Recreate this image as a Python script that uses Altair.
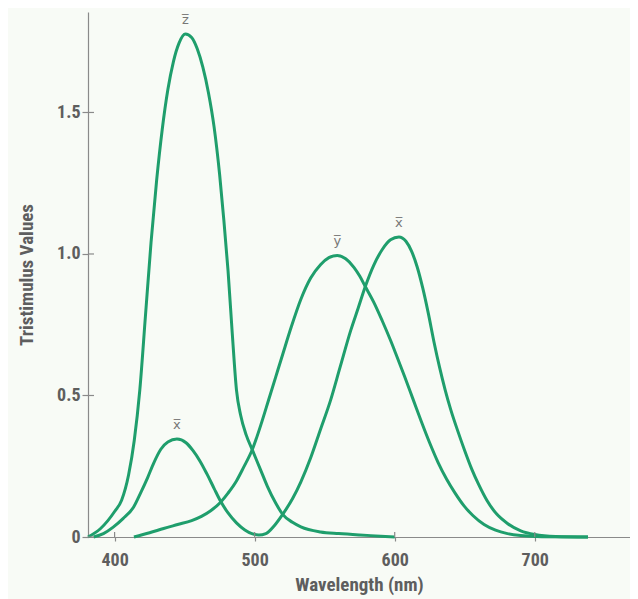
import altair as alt
import pandas as pd

# ---- data (wavelength nm, tristimulus value) ----
z_wl = [381, 390, 400, 405, 410, 414, 418, 422, 426, 430, 434, 438, 442, 446, 450.5, 455, 459, 463,
        467, 471, 475, 478, 481, 484, 487, 490, 494, 498.4, 504, 509, 515, 520, 527, 533, 547, 560,
        575, 590, 600]
z_val = [0.0, 0.03, 0.09, 0.13, 0.22, 0.34, 0.52, 0.78, 1.04, 1.26, 1.44, 1.58, 1.68, 1.745, 1.777,
         1.765, 1.725, 1.66, 1.57, 1.45, 1.28, 1.12, 0.94, 0.72, 0.52, 0.43, 0.36, 0.307, 0.24, 0.18,
         0.12, 0.08, 0.052, 0.036, 0.018, 0.012, 0.007, 0.003, 0.0]

x_wl = [385, 392, 399, 406, 413.6, 418.5, 423.6, 428, 433, 438, 444.5, 451, 456, 461, 466, 471, 475.7,
        481, 487, 493, 498, 503, 508, 514, 520, 527, 533, 540, 547, 554, 561, 568.6, 574, 579, 585,
        591, 597, 603, 608, 612, 616, 620, 624, 628, 632, 636, 640, 645, 650, 655, 660, 666, 673,
        680.5, 690, 700, 715, 738]
x_val = [0.0, 0.012, 0.035, 0.065, 0.106, 0.155, 0.21, 0.262, 0.31, 0.336, 0.346, 0.333, 0.305, 0.268,
         0.222, 0.172, 0.126, 0.085, 0.05, 0.025, 0.012, 0.007, 0.012, 0.04, 0.08, 0.135, 0.195, 0.28,
         0.38, 0.48, 0.60, 0.73, 0.81, 0.885, 0.96, 1.015, 1.05, 1.06, 1.045, 1.01, 0.955, 0.88, 0.79,
         0.69, 0.60, 0.52, 0.45, 0.375, 0.305, 0.24, 0.185, 0.128, 0.08, 0.048, 0.022, 0.009, 0.002,
         0.0]

y_wl = [413.8, 425, 435, 445, 455, 462, 468.6, 475.7, 481, 487, 492, 498.4, 505, 510, 515, 520, 526,
        533, 540, 547, 553, 559, 565, 571, 575, 579, 585, 591, 597, 601, 607, 613, 619, 625, 631, 637,
        643, 649.5, 656, 663.8, 672, 680.5, 690, 705, 738]
y_val = [0.0, 0.015, 0.03, 0.044, 0.058, 0.073, 0.093, 0.123, 0.155, 0.198, 0.245, 0.31, 0.405, 0.485,
         0.565, 0.645, 0.74, 0.84, 0.915, 0.962, 0.987, 0.995, 0.983, 0.952, 0.922, 0.885, 0.83, 0.765,
         0.695, 0.645, 0.568, 0.488, 0.408, 0.332, 0.263, 0.205, 0.156, 0.11, 0.075, 0.044, 0.024,
         0.012, 0.005, 0.001, 0.0]

curves = {"x": (x_wl, x_val), "y": (y_wl, y_val), "z": (z_wl, z_val)}
label_text = {"x": "x\u0305", "y": "y\u0305", "z": "z\u0305"}

x_ticks = [400, 500, 600, 700]
y_ticks = [0, 0.5, 1.0, 1.5]

rows, labs = [], []
for name, (wl, val) in curves.items():
    for a, b in zip(wl, val):
        rows.append({"wl": a, "v": b, "curve": name})
    # label every local maximum of the curve
    for i in range(1, len(val) - 1):
        if val[i] > val[i - 1] and val[i] >= val[i + 1]:
            labs.append({"wl": wl[i], "v": val[i], "t": label_text[name]})

df = pd.DataFrame(rows)
lab_df = pd.DataFrame(labs)
xt_df = pd.DataFrame({"t": x_ticks})
yt_df = pd.DataFrame({"t": y_ticks})

GREEN = "#1f9e6c"
TXT = "#5e5e5e"
AX = "#8a8a8a"
FONT = "Liberation Sans Narrow, Roboto Condensed, Arial Narrow, Liberation Sans, sans-serif"

xscale = alt.Scale(domain=[381, 768], nice=False, zero=False)
yscale = alt.Scale(domain=[0, 1.855], nice=False)

xenc = alt.X("wl:Q", scale=xscale,
             axis=alt.Axis(values=x_ticks, title="Wavelength (nm)", grid=False,
                           labelPadding=10, titlePadding=6, tickSize=4))
yenc = alt.Y("v:Q", scale=yscale,
             axis=alt.Axis(values=y_ticks, title="Tristimulus Values", grid=False,
                           labelExpr="datum.value == 0 ? '0' : format(datum.value, '.1f')",
                           labelPadding=2, titlePadding=20, tickSize=6))

lines = alt.Chart(df).mark_line(interpolate="monotone", strokeWidth=3, color=GREEN).encode(
    x=xenc, y=yenc, detail="curve:N")

texts = alt.Chart(lab_df).mark_text(dy=-14, fontSize=13, color="#777777", font="DejaVu Sans").encode(
    x=alt.X("wl:Q", scale=xscale), y=alt.Y("v:Q", scale=yscale), text="t:N")

# inner halves of the crossing tick marks
xin = alt.Chart(xt_df).mark_rule(color=AX, strokeWidth=1.2).encode(
    x=alt.X("t:Q", scale=xscale), y=alt.value(525), y2=alt.value(520))
yin = alt.Chart(yt_df).mark_rule(color=AX, strokeWidth=1.2).encode(
    y=alt.Y("t:Q", scale=yscale), x=alt.value(0), x2=alt.value(6))

chart = (lines + xin + yin + texts).properties(
    width=542, height=525,
    autosize=alt.AutoSizeParams(type="none"),
    padding={"left": 80, "top": 4, "right": 0, "bottom": 62},
    background="#f8fbf6",
).configure_view(stroke="transparent").configure_axis(
    domainColor=AX, tickColor=AX, domainWidth=1.2, tickWidth=1.2,
    labelColor=TXT, titleColor=TXT, labelFont=FONT, titleFont=FONT,
    labelFontSize=18, titleFontSize=19, labelFontWeight="bold", titleFontWeight="bold",
)

chart.save("out.html", embed_options={"renderer": "svg", "actions": False})
